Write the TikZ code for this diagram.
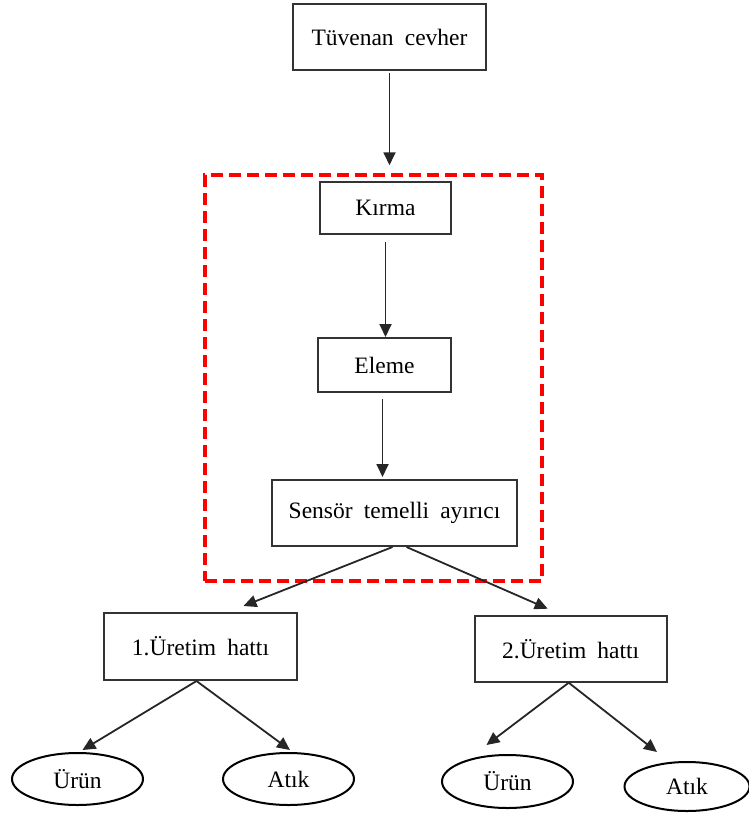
\documentclass[tikz,border=0pt]{standalone}
\usepackage{fontspec}
\setmainfont[WordSpace=1.9]{Liberation Serif}
\usetikzlibrary{arrows.meta,positioning,shapes.geometric}

\begin{document}
\begin{tikzpicture}[x=1pt, y=-1pt,
    >={Triangle[length=13pt,width=12pt]},
    stagebox/.style={draw=black!80, line width=2pt, rectangle, inner sep=0pt,
        font=\fontsize{23.5}{27}\selectfont},
    outoval/.style={draw=black, line width=2pt, ellipse, inner sep=0pt,
        font=\fontsize{23.5}{27}\selectfont},
    flow/.style={->, line width=1.8pt, draw=black!85}]
    \useasboundingbox (0,0) rectangle (748,814);

    % Feed
    \node[stagebox, minimum width=193pt, minimum height=66pt] (tuv) at (389.5,37) {Tüvenan cevher};

    % Sensor based pre-concentration group
    \node[draw=red, line width=3.5pt, dash pattern=on 12pt off 6pt,
        minimum width=337pt, minimum height=406pt] (grp) at (373.5,378) {};
    \node[stagebox, minimum width=131pt, minimum height=52pt] (kir) at (385.5,208) {Kırma};
    \node[stagebox, minimum width=133pt, minimum height=54pt] (ele) at (384.5,365) {Eleme};
    \node[stagebox, minimum width=245pt, minimum height=66pt] (sen) at (394.5,513) {Sensör temelli ayırıcı};

    % Production lines
    \node[stagebox, minimum width=193pt, minimum height=67pt] (hat1) at (200.5,646.5) {1.Üretim hattı};
    \node[stagebox, minimum width=192pt, minimum height=66pt] (hat2) at (570.7,648.7) {2.Üretim hattı};

    % Outputs
    \node[outoval, minimum width=131pt, minimum height=52pt] (urun1) at (77.5,779) {Ürün};
    \node[outoval, minimum width=131pt, minimum height=52pt] (atik1) at (288.5,779) {Atık};
    \node[outoval, minimum width=131pt, minimum height=53pt] (urun2) at (507.5,781.5) {Ürün};
    \node[outoval, minimum width=125pt, minimum height=49pt] (atik2) at (687,786.5) {Atık};

    % Connectors
    \draw[flow, shorten <=2pt, shorten >=8pt] (tuv.south) -- (grp.north -| tuv.south);
    \draw[flow, shorten <=7pt] (kir.south) -- (kir.south |- ele.north);
    \draw[flow, shorten <=6pt, shorten >=2pt] ([xshift=-2pt]ele.south) -- ([xshift=-2pt]ele.south |- sen.north);
    \draw[flow] ([xshift=-2pt]sen.south) -- ([xshift=43pt,yshift=6pt]hat1.north);
    \draw[flow] ([xshift=12pt]sen.south) -- ([xshift=-23pt,yshift=6pt]hat2.north);
    \draw[flow] ([xshift=-4pt]hat1.south) -- ([xshift=5pt,yshift=2pt]urun1.north);
    \draw[flow] ([xshift=-4pt]hat1.south) -- ([xshift=1.5pt,yshift=2pt]atik1.north);
    \draw[flow] ([xshift=-2pt]hat2.south) -- ([xshift=-21pt,yshift=9pt]urun2.north);
    \draw[flow] ([xshift=-2pt]hat2.south) -- ([xshift=-30pt,yshift=9pt]atik2.north);
\end{tikzpicture}
\end{document}
